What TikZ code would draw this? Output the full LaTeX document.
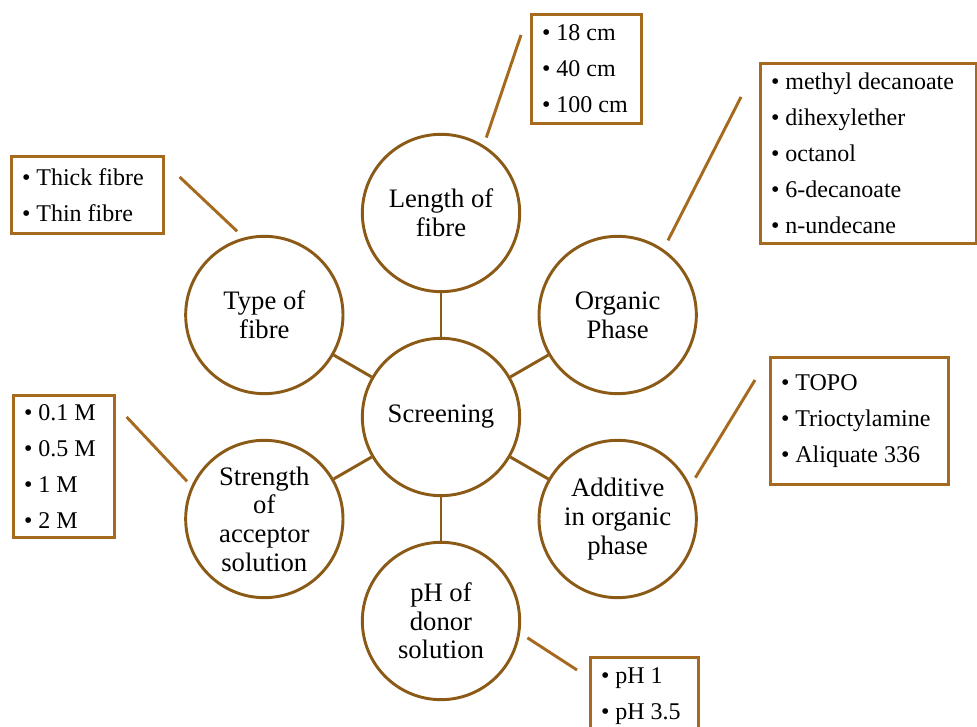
\documentclass[tikz,border=0pt]{standalone}
\usepackage{fontspec}
\setmainfont{Liberation Serif}
\usetikzlibrary{positioning,calc}
\definecolor{ringcolor}{HTML}{8B5A16}
\definecolor{boxcolor}{HTML}{A66A1F}
\newcommand{\itm}{\textbullet\ }

\begin{document}
\begin{tikzpicture}[x=0.75pt, y=0.75pt,
    every node/.append style={execute at begin node={\spaceskip=0pt\xspaceskip=0pt}},
    topic/.style={draw=ringcolor, line width=2.2pt, circle, fill=white,
      minimum size=118pt, inner sep=0pt, align=center,
      font=\fontsize{20}{21.5}\selectfont},
    listbox/.style={draw=boxcolor, line width=2pt, anchor=north west,
      inner xsep=8pt, inner ysep=0pt, align=left,
      font=\fontsize{18}{27}\selectfont},
    spoke/.style={draw=ringcolor, line width=2.2pt},
    lead/.style={draw=boxcolor, line width=2.2pt}]
  \useasboundingbox (0,0) rectangle (977,727);
  \clip (0,0) rectangle (977,727);

  % centre and the six factors
  \node[topic] (scr) at (441,310) {Screening};
  \node[topic] (len) at ($(scr)+(90:204)$) {Length of\\fibre};
  \node[topic] (type) at ($(scr)+(150:204)$) {Type of\\fibre};
  \node[topic] (org) at ($(scr)+(30:204)$) {Organic\\Phase};
  \node[topic] (str) at ($(scr)+(210:204)$) {Strength\\of\\acceptor\\solution};
  \node[topic] (add) at ($(scr)+(330:204)$) {Additive\\in organic\\phase};
  \node[topic] (ph) at ($(scr)+(270:204)$) {pH of\\donor\\solution};

  \foreach \t in {len,type,org,str,add,ph}
    \draw[spoke] (scr) -- (\t);

  % option lists
  \node[listbox, text width=66.5pt, minimum height=81.75pt] (lenlist) at (530,714)
    {\itm 18 cm\\\itm 40 cm\\\itm 100 cm};
  \node[listbox, text width=146pt, minimum height=135pt] (orglist) at (759,665)
    {\itm methyl decanoate\\\itm dihexylether\\\itm octanol\\\itm 6-decanoate\\\itm n-undecane};
  \node[listbox, text width=98pt, minimum height=57.75pt] (typelist) at (10,572)
    {\itm Thick fibre\\\itm Thin fibre};
  \node[listbox, text width=117.5pt, minimum height=95.25pt] (addlist) at (769,371)
    {\itm TOPO\\\itm Trioctylamine\\\itm Aliquate 336};
  \node[listbox, text width=59.75pt, minimum height=106.5pt] (strlist) at (12,333)
    {\itm 0.1 M\\\itm 0.5 M\\\itm 1 M\\\itm 2 M};
  \node[listbox, text width=65pt, minimum height=57.75pt] (phlist) at (589,71)
    {\itm pH 1\\\itm pH 3.5};

  % leaders
  \coordinate (lenA) at ($(len)+(59:88)$);
  \coordinate (lenB) at ($(lenlist.north west)+(-9,-22)$);
  \coordinate (typeA) at ($(type)+(108:88)$);
  \coordinate (typeB) at ($(typelist.north east)+(15,-22)$);
  \coordinate (orgA) at ($(org)+(56:90)$);
  \coordinate (orgB) at ($(orglist.north west)+(-18,-35)$);
  \coordinate (addA) at ($(add)+(28:88)$);
  \coordinate (addB) at ($(addlist.north west)+(-14,-24)$);
  \coordinate (strA) at ($(str)+(154:86)$);
  \coordinate (strB) at ($(strlist.north east)+(11,-23)$);
  \coordinate (phA) at ($(ph)+(-11:88)$);
  \coordinate (phB) at ($(phlist.north west)+(-12,-14)$);
  \foreach \t in {len,type,org,add,str,ph}
    \draw[lead] (\t A) -- (\t B);
\end{tikzpicture}
\end{document}
